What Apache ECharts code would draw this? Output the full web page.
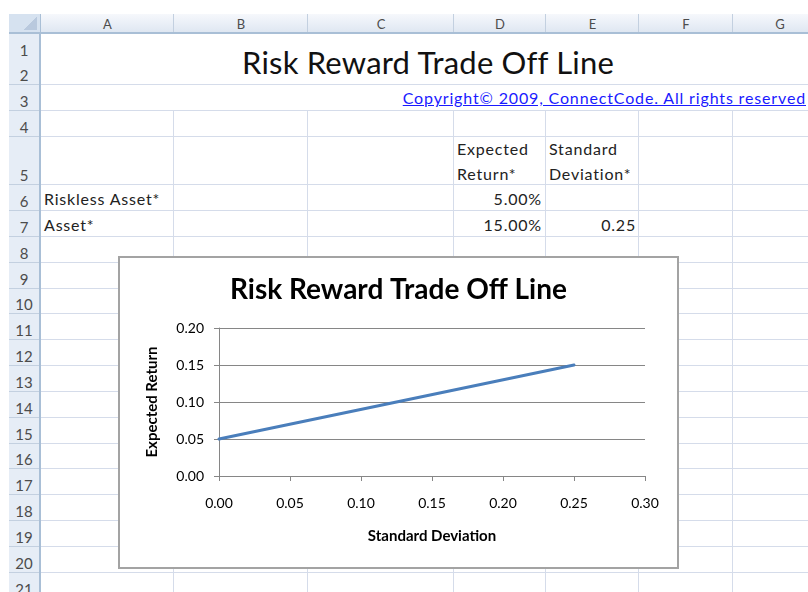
<!DOCTYPE html>
<html>
<head>
<meta charset="utf-8">
<script src="https://cdn.jsdelivr.net/npm/echarts@6/dist/echarts.min.js"></script>
<style>
	html, body { margin: 0; padding: 0; background: #fff; }
	body { width: 808px; height: 592px; position: relative; overflow: hidden; font-family: Lato, "Noto Sans", sans-serif; }
	.ab { position: absolute; }
	.cell { position: absolute; font-size: 16px; letter-spacing: 0.8px; color: #222; white-space: nowrap; line-height: 25px; }
	#chartBox { position: absolute; left: 118px; top: 256px; width: 561px; height: 313px; box-sizing: border-box; border: 2px solid #a3a3a3; background: #fff; }
	#chart { width: 100%; height: 100%; }
</style>
</head>
<body>
<div id="sheet"></div>
<div id="chartBox"><div id="chart"></div></div>
<script>
/*图表数据*/
var stdDev = [0.00, 0.25];
var expReturn = [0.05, 0.15];
var chartTitle = 'Risk Reward Trade Off Line';
var xName = 'Standard Deviation';
var yName = 'Expected Return';

/*表格内容*/
var colLetters = ['A', 'B', 'C', 'D', 'E', 'F', 'G'];
var rowNumbers = [1, 2, 3, 4, 5, 6, 7, 8, 9, 10, 11, 12, 13, 14, 15, 16, 17, 18, 19, 20, 21];
var rowLabels = ['Riskless Asset*', 'Asset*'];
var returnCells = ['5.00%', '15.00%'];
var devCells = ['', '0.25'];

/*表格网格位置*/
var colEdges = [9, 41, 174, 308, 454, 546, 639, 733, 827];
var rowEdges = [14, 34, 60, 85, 111, 137, 185, 211, 237, 263, 289, 314, 340, 366, 392, 418, 444, 469, 495, 521, 547, 573, 599];

var sheet = document.getElementById('sheet');

function box(x, y, w, h, css, text) {
	var d = document.createElement('div');
	d.className = 'ab';
	d.style.cssText = 'left:' + x + 'px;top:' + y + 'px;width:' + w + 'px;height:' + h + 'px;' + (css || '');
	if(text !== undefined) d.textContent = text;
	sheet.appendChild(d);
	return d;
}

function cell(x, y, w, text, align, css) {
	var d = document.createElement('div');
	d.className = 'cell';
	d.style.cssText = 'left:' + x + 'px;top:' + y + 'px;width:' + w + 'px;text-align:' + align + ';' + (css || '');
	d.textContent = text;
	sheet.appendChild(d);
	return d;
}

var sheetLeft = colEdges[1], sheetRight = 808, sheetBottom = 592;

/*横线 (第1和第2行合并)*/
for(var i = 3; i < rowEdges.length; i++) {
	box(sheetLeft, rowEdges[i] - 1, sheetRight - sheetLeft, 1, 'background:#d5dcea;');
}
/*竖线 (1-3行为合并单元格)*/
for(var j = 2; j < colEdges.length - 1; j++) {
	box(colEdges[j] - 1, rowEdges[4], 1, sheetBottom - rowEdges[4], 'background:#d5dcea;');
}

/*列标题*/
box(colEdges[0], rowEdges[0], sheetRight - colEdges[0], rowEdges[1] - rowEdges[0],
	'background:linear-gradient(#f6f8fc,#dfe7f2);border-bottom:2px solid #a9bfd6;box-sizing:border-box;');
for(var c = 0; c < colLetters.length; c++) {
	var x0 = colEdges[c + 1], x1 = colEdges[c + 2];
	box(x0, rowEdges[0] + 2, x1 - x0, 16, 'font-size:13px;color:#4c4c4c;text-align:center;line-height:16px;', colLetters[c]);
	box(x1 - 1, rowEdges[0], 1, rowEdges[1] - rowEdges[0] - 2, 'background:#c3d0e0;');
}
/*左上角*/
box(colEdges[0], rowEdges[0], colEdges[1] - colEdges[0], rowEdges[1] - rowEdges[0],
	'background:#d6e2f0;border-right:1px solid #a9bfd6;border-bottom:2px solid #a9bfd6;box-sizing:border-box;');
box(colEdges[0] + 14, rowEdges[0] + 3, 14, 13,
	'background:linear-gradient(135deg, rgba(0,0,0,0) 50%, #b9c9de 50%);');

/*行标题*/
box(colEdges[0], rowEdges[1], colEdges[1] - colEdges[0], sheetBottom - rowEdges[1],
	'background:#e6edf6;border-right:2px solid #a9bfd6;box-sizing:border-box;');
for(var r = 0; r < rowNumbers.length; r++) {
	var y1 = rowEdges[r + 2];
	box(colEdges[0], y1 - 20, colEdges[1] - colEdges[0] - 2, 20, 'font-size:15px;color:#4c4c4c;text-align:center;line-height:20px;', String(rowNumbers[r]));
	if(r != 0) {
		box(colEdges[0], y1 - 1, colEdges[1] - colEdges[0] - 2, 1, 'background:#c3d0e0;');
	}
}

/*大标题与版权*/
cell(38, rowEdges[1] + 9, 780, chartTitle, 'center', 'font-size:31px;letter-spacing:0.2px;color:#111;line-height:38px;');
cell(200, rowEdges[3], 606, 'Copyright\u00a9 2009, ConnectCode. All rights reserved', 'right',
	'color:#1a1aff;text-decoration:underline;font-size:16px;letter-spacing:0.85px;line-height:26px;');

/*单元格*/
cell(colEdges[4] + 3, rowEdges[5] - 1, 90, 'Expected', 'left');
cell(colEdges[4] + 3, rowEdges[5] + 24, 90, 'Return*', 'left');
cell(colEdges[5] + 3, rowEdges[5] - 1, 90, 'Standard', 'left');
cell(colEdges[5] + 3, rowEdges[5] + 24, 90, 'Deviation*', 'left');
for(var k = 0; k < rowLabels.length; k++) {
	var cellTop = rowEdges[6 + k] + 1;
	cell(colEdges[1] + 3, cellTop, 130, rowLabels[k], 'left');
	cell(colEdges[4], cellTop, colEdges[5] - colEdges[4] - 4, returnCells[k], 'right');
	cell(colEdges[5], cellTop, colEdges[6] - colEdges[5] - 3, devCells[k], 'right');
}

/*图表*/
var lineData = [];
for(var p = 0; p < stdDev.length; p++) {
	lineData.push([stdDev[p], expReturn[p]]);
}
var axisGray = '#868686';
var chart_option = {
	animation: false,
	title: {
		text: chartTitle,
		left: 'center',
		top: 13,
		textStyle: {
			fontFamily: 'Lato',
			fontWeight: 'bold',
			fontSize: 28,
			color: '#000'
		}
	},
	grid: {
		left: 99,
		top: 70,
		width: 426,
		height: 148,
		containLabel: false
	},
	xAxis: {
		type: 'value',
		min: 0,
		max: 0.3,
		interval: 0.05,
		name: xName,
		nameLocation: 'middle',
		nameGap: 53,
		nameTextStyle: { fontFamily: 'Lato', fontWeight: 'bold', fontSize: 15, color: '#000' },
		axisLine: { show: true, lineStyle: { color: axisGray, width: 1 } },
		axisTick: { show: true, length: 5, lineStyle: { color: axisGray } },
		axisLabel: {
			margin: 20,
			fontFamily: 'Lato',
			fontSize: 14,
			color: '#000',
			formatter: function(v) { return v.toFixed(2); }
		},
		splitLine: { show: false }
	},
	yAxis: {
		type: 'value',
		min: 0,
		max: 0.2,
		interval: 0.05,
		name: yName,
		nameLocation: 'middle',
		nameGap: 59,
		nameTextStyle: { fontFamily: 'Lato', fontWeight: 'bold', fontSize: 15, color: '#000' },
		axisLine: { show: true, lineStyle: { color: axisGray, width: 1 } },
		axisTick: { show: true, length: 5, lineStyle: { color: axisGray } },
		axisLabel: {
			margin: 15,
			fontFamily: 'Lato',
			fontSize: 14,
			color: '#000',
			formatter: function(v) { return v.toFixed(2); }
		},
		splitLine: { show: true, lineStyle: { color: axisGray, width: 1 } }
	},
	series: [{
		name: yName,
		type: 'line',
		data: lineData,
		showSymbol: false,
		lineStyle: { color: '#4a7ebb', width: 3, cap: 'round' }
	}]
};
var chart_Div = echarts.init(document.getElementById('chart'));
chart_Div.setOption(chart_option);
</script>
</body>
</html>
